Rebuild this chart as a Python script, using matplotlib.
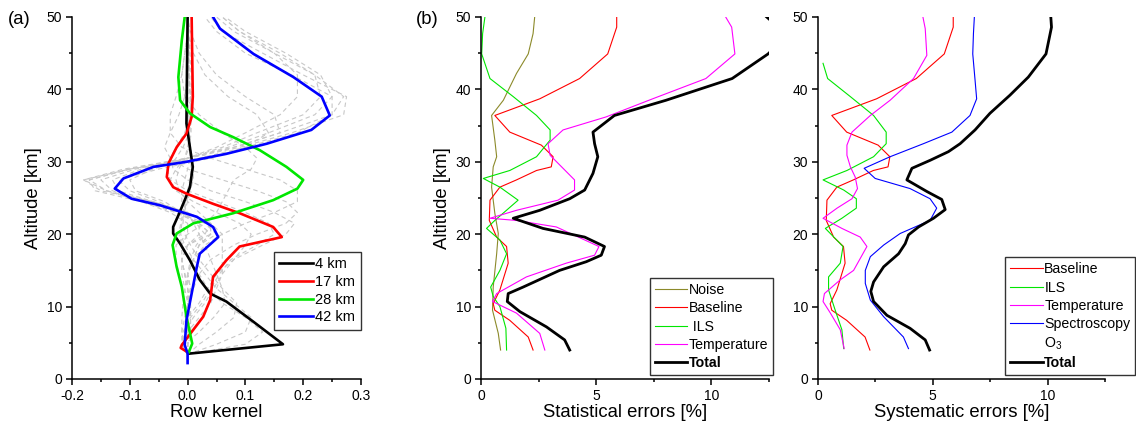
import matplotlib
matplotlib.use('Agg')
import matplotlib.pyplot as plt
from matplotlib.ticker import MultipleLocator, FormatStrFormatter

plt.rcParams['font.family'] = ['Liberation Sans', 'DejaVu Sans']
plt.rcParams['mathtext.fontset'] = 'custom'
plt.rcParams['mathtext.rm'] = 'Liberation Sans'
plt.rcParams['mathtext.it'] = 'Liberation Sans:italic'
plt.rcParams['axes.unicode_minus'] = False

# ---------------- Panel (a): row kernels ----------------
k4_x = [0.002, 0.165, 0.114, 0.067, 0.039, 0.021, 0.004, -0.013, -0.025, -0.025, -0.016, -0.005, 0.004, 0.009, 0.004, -0.002, -0.001, 0.0]
k4_y = [3.5, 4.8, 7.9, 10.7, 11.8, 13.7, 16.4, 18.7, 20.1, 21.0, 22.6, 24.7, 26.5, 29.3, 32.0, 35.3, 43.0, 50.0]

k17_x = [-0.002, -0.012, -0.01, 0.007, 0.027, 0.039, 0.044, 0.067, 0.09, 0.163, 0.148, 0.09, 0.044, -0.002, -0.025, -0.036, -0.033, -0.019, -0.002, 0.007, 0.009, 0.007]
k17_y = [3.8, 4.3, 4.7, 6.5, 8.6, 10.9, 14.1, 16.4, 18.3, 19.6, 21.0, 22.9, 24.2, 25.6, 26.5, 27.9, 29.8, 32.0, 33.9, 36.2, 39.0, 50.0]

k28_x = [0.002, 0.008, -0.002, -0.01, -0.019, -0.026, -0.019, 0.01, 0.079, 0.148, 0.19, 0.2, 0.171, 0.125, 0.079, 0.039, 0.004, -0.013, -0.016, -0.01, -0.005]
k28_y = [3.7, 4.9, 8.6, 12.7, 15.5, 18.5, 20.1, 21.5, 22.9, 24.7, 26.3, 27.5, 29.3, 31.6, 33.4, 34.8, 36.7, 38.5, 41.7, 46.8, 50.0]

k42_x = [0.0, 0.0, -0.005, -0.002, 0.007, 0.016, 0.021, 0.053, 0.044, 0.016, -0.048, -0.097, -0.126, -0.111, -0.059, -0.002, 0.067, 0.137, 0.214, 0.246, 0.232, 0.183, 0.114, 0.056, 0.044]
k42_y = [2.2, 3.5, 4.7, 8.1, 11.8, 15.5, 17.3, 19.6, 21.0, 22.4, 24.0, 24.9, 26.3, 27.7, 29.3, 30.0, 31.1, 32.5, 34.4, 36.4, 39.0, 41.7, 44.9, 48.4, 50.0]

kernel_labels = ['4 km', '17 km', '28 km', '42 km']

# other (gray dashed) kernels, estimated
gray_z = [3.4, 4.8, 6.5, 8.5, 10.5, 12.5, 14.5, 16.5, 18.5, 20, 21.5, 23, 24.5, 26, 27.5, 29, 30.5, 32, 34, 36.5, 39, 42, 45, 48, 50]
gray_k6 = [0.0, 0.10, 0.13, 0.10, 0.06, 0.035, 0.02, 0.005, -0.01, -0.015, -0.012, -0.008, -0.004, 0.0, 0.004, 0.006, 0.006, 0.004, 0.002, 0.0, 0.0, 0.0, 0.0, 0.0, 0.0]
gray_k8 = [0.0, 0.05, 0.10, 0.11, 0.08, 0.05, 0.03, 0.01, -0.005, -0.012, -0.01, -0.006, 0.0, 0.004, 0.008, 0.008, 0.006, 0.004, 0.002, 0.0, 0.0, 0.0, 0.0, 0.0, 0.0]
gray_k10 = [0.0, 0.02, 0.05, 0.08, 0.085, 0.06, 0.04, 0.02, 0.005, -0.005, -0.008, -0.006, -0.002, 0.004, 0.01, 0.01, 0.008, 0.005, 0.003, 0.001, 0.0, 0.0, 0.0, 0.0, 0.0]
gray_k12 = [0.0, -0.005, 0.02, 0.045, 0.065, 0.06, 0.05, 0.04, 0.03, 0.02, 0.01, 0.0, -0.01, -0.01, -0.005, 0.0, 0.004, 0.004, 0.003, 0.002, 0.001, 0.0, 0.0, 0.0, 0.0]
gray_k14 = [0.0, -0.01, 0.0, 0.02, 0.04, 0.05, 0.06, 0.06, 0.06, 0.06, 0.04, 0.02, 0.0, -0.015, -0.02, -0.015, -0.005, 0.0, 0.004, 0.005, 0.005, 0.003, 0.002, 0.001, 0.0]
gray_k16 = [0.0, -0.01, -0.005, 0.01, 0.03, 0.045, 0.06, 0.08, 0.1, 0.11, 0.09, 0.05, 0.01, -0.02, -0.03, -0.02, -0.005, 0.003, 0.006, 0.006, 0.004, 0.002, 0.001, 0.0, 0.0]
gray_k18 = [0.0, -0.01, -0.008, 0.005, 0.025, 0.04, 0.055, 0.075, 0.12, 0.15, 0.14, 0.1, 0.05, 0.0, -0.03, -0.035, -0.02, -0.008, 0.003, 0.006, 0.005, 0.003, 0.002, 0.001, 0.0]
gray_k20 = [0.0, -0.005, -0.005, 0.0, 0.02, 0.035, 0.05, 0.08, 0.13, 0.17, 0.185, 0.15, 0.1, 0.04, 0.0, -0.025, -0.03, -0.02, -0.005, 0.005, 0.008, 0.006, 0.004, 0.002, 0.001]
gray_k22 = [0.0, -0.01, -0.01, -0.005, 0.0, 0.01, 0.02, 0.04, 0.08, 0.12, 0.17, 0.19, 0.17, 0.12, 0.06, 0.0, -0.03, -0.04, -0.03, -0.015, -0.005, 0.0, 0.002, 0.002, 0.001]
gray_k25 = [0.0, -0.005, -0.01, -0.01, -0.008, -0.005, 0.0, 0.01, 0.03, 0.06, 0.1, 0.15, 0.19, 0.19, 0.16, 0.1, 0.04, -0.01, -0.03, -0.03, -0.02, -0.01, -0.005, 0.0, 0.0]
gray_k30 = [0.0, 0.0, 0.005, 0.0, -0.005, -0.01, -0.015, -0.02, -0.02, 0.0, 0.03, 0.05, 0.06, 0.07, 0.08, 0.11, 0.12, 0.1, 0.06, 0.02, -0.005, -0.01, -0.005, 0.0, 0.0]
gray_k32 = [0.0, 0.0, 0.005, 0.005, 0.005, 0.0, -0.005, -0.01, -0.01, 0.0, 0.0, -0.03, -0.08, -0.14, -0.17, -0.1, 0.0, 0.08, 0.16, 0.15, 0.1, 0.05, 0.02, 0.005, 0.0]
gray_k33 = [0.0, 0.0, 0.005, 0.005, 0.0, -0.005, -0.01, -0.01, 0.0, 0.02, 0.02, -0.01, -0.05, -0.1, -0.12, -0.05, 0.04, 0.1, 0.14, 0.12, 0.07, 0.03, 0.01, 0.0, 0.0]
gray_k35 = [0.0, 0.0, 0.005, 0.005, 0.005, 0.0, -0.005, -0.01, 0.0, 0.03, 0.04, 0.0, -0.06, -0.14, -0.18, -0.1, 0.02, 0.1, 0.19, 0.25, 0.25, 0.18, 0.1, 0.05, 0.03]
gray_k38 = [0.0, 0.0, 0.005, 0.005, 0.005, 0.0, -0.005, -0.01, 0.0, 0.04, 0.04, 0.0, -0.06, -0.15, -0.18, -0.11, 0.0, 0.09, 0.18, 0.27, 0.275, 0.2, 0.13, 0.06, 0.04]
gray_k40 = [0.0, 0.0, 0.0, 0.0, 0.005, 0.005, 0.0, 0.01, 0.02, 0.04, 0.02, -0.02, -0.08, -0.16, -0.17, -0.1, 0.0, 0.08, 0.16, 0.25, 0.27, 0.22, 0.15, 0.08, 0.05]
gray_k43 = [0.0, 0.0, 0.0, 0.0, 0.0, 0.005, 0.0, 0.01, 0.02, 0.05, 0.03, -0.015, -0.06, -0.12, -0.13, -0.08, 0.0, 0.06, 0.12, 0.2, 0.23, 0.22, 0.16, 0.09, 0.06]
gray_k45 = [0.0, 0.0, 0.0, 0.0, 0.0, 0.005, 0.0, 0.01, 0.02, 0.04, 0.02, -0.02, -0.07, -0.13, -0.15, -0.09, 0.0, 0.07, 0.14, 0.22, 0.25, 0.23, 0.17, 0.1, 0.065]
gray_k47 = [0.0, 0.0, 0.0, 0.0, 0.0, 0.0, 0.0, 0.005, 0.015, 0.03, 0.015, -0.01, -0.04, -0.09, -0.1, -0.06, 0.0, 0.05, 0.1, 0.16, 0.19, 0.19, 0.15, 0.09, 0.06]
gray_kernels = [gray_k6, gray_k8, gray_k10, gray_k12, gray_k14, gray_k16, gray_k18, gray_k20,
                gray_k22, gray_k25, gray_k30, gray_k32, gray_k33, gray_k35, gray_k38, gray_k40,
                gray_k43, gray_k45, gray_k47]

# ---------------- Panel (b): statistical errors [%] ----------------
noise_x = [0.85, 0.75, 0.5, 0.53, 0.68, 0.75, 0.6, 0.46, 0.53, 0.68, 0.6, 0.46, 0.97, 1.54, 2.05, 2.26, 2.33]
noise_y = [4.0, 6.3, 9.5, 12.7, 17.3, 20.1, 22.9, 26.5, 29.3, 30.7, 33.0, 36.4, 38.5, 42.2, 44.9, 47.7, 50.0]

baseline_x = [2.26, 2.05, 1.25, 0.6, 0.53, 0.82, 1.18, 1.11, 0.68, 0.36, 0.39, 0.82, 1.54, 2.41, 3.05, 3.13, 2.62, 1.25, 0.6, 2.55, 4.28, 5.5, 5.89, 5.89]
baseline_y = [4.0, 5.8, 8.1, 9.5, 10.4, 12.3, 16.0, 18.3, 19.6, 21.9, 24.7, 26.5, 27.5, 28.8, 29.3, 30.7, 32.3, 34.1, 36.4, 38.7, 41.5, 44.9, 48.6, 50.0]

ils_stat_x = [1.11, 1.08, 0.82, 0.53, 0.42, 0.82, 1.11, 0.82, 0.24, 0.6, 1.61, 0.82, 0.1, 1.25, 2.41, 3.0, 3.0, 2.41, 1.4, 0.39, 0.03, 0.07, 0.17]
ils_stat_y = [4.0, 7.0, 10.0, 11.4, 12.7, 15.0, 17.3, 19.2, 20.8, 21.9, 24.7, 26.5, 27.7, 28.8, 30.7, 33.0, 34.4, 36.4, 39.0, 41.5, 44.9, 47.7, 50.0]

temp_stat_x = [2.77, 2.55, 1.54, 0.5, 0.68, 1.97, 3.7, 4.93, 5.12, 3.27, 1.54, 0.39, 1.54, 3.34, 4.06, 4.06, 3.0, 2.91, 3.56, 5.43, 7.45, 9.76, 11.02, 10.88, 10.62]
temp_stat_y = [4.0, 6.3, 9.1, 10.7, 11.8, 14.1, 16.0, 17.1, 18.3, 21.0, 21.9, 22.2, 23.3, 24.7, 26.1, 27.5, 30.9, 32.5, 34.4, 36.2, 38.7, 41.5, 44.9, 48.6, 50.0]

total_stat_x = [3.85, 3.63, 2.84, 1.69, 1.14, 1.18, 1.83, 3.41, 4.57, 5.22, 5.36, 4.5, 2.69, 1.4, 2.55, 3.85, 4.5, 4.86, 5.07, 4.93, 4.86, 5.79, 8.03, 10.9, 12.46, 13.3, 12.4]
total_stat_y = [4.0, 5.4, 7.2, 9.3, 10.7, 11.8, 12.7, 15.0, 16.2, 17.1, 18.3, 19.6, 20.8, 22.2, 23.3, 24.9, 26.1, 28.4, 30.7, 32.5, 34.1, 36.4, 38.5, 41.5, 44.9, 47.5, 50.0]

stat_labels = ['Noise', 'Baseline', ' ILS', 'Temperature', 'Total']

# ---------------- Panel (c): systematic errors [%] ----------------
ils_sys_x = [1.12, 1.04, 0.75, 0.46, 0.46, 0.97, 1.09, 0.32, 1.04, 1.67, 1.67, 1.12, 0.22, 1.26, 2.42, 2.97, 2.97, 2.42, 1.41, 0.42, 0.22]
ils_sys_y = [4.2, 6.8, 9.5, 12.3, 14.1, 16.0, 18.3, 20.8, 22.2, 23.6, 24.9, 26.1, 27.5, 28.8, 30.7, 32.5, 34.1, 36.4, 39.0, 41.5, 43.6]

temp_sys_x = [1.14, 0.97, 0.54, 0.22, 0.28, 0.97, 1.55, 2.13, 1.84, 1.04, 0.22, 0.83, 1.48, 1.72, 1.62, 1.41, 1.26, 1.26, 1.48, 2.28, 3.14, 4.16, 4.74, 4.67, 4.57]
temp_sys_y = [4.2, 6.8, 9.1, 10.7, 11.8, 13.7, 15.0, 18.3, 19.6, 20.8, 22.2, 23.6, 24.9, 26.3, 27.9, 29.3, 30.9, 32.3, 34.1, 36.4, 38.5, 41.5, 44.7, 48.4, 50.0]

spec_x = [3.94, 3.72, 2.86, 2.28, 2.06, 2.06, 2.28, 2.86, 3.58, 4.88, 5.17, 4.88, 4.01, 2.49, 2.01, 3.14, 4.59, 5.83, 6.62, 6.91, 6.84, 6.74, 6.77, 6.81]
spec_y = [4.2, 5.8, 8.6, 10.9, 13.2, 15.0, 16.9, 18.5, 20.1, 21.9, 23.6, 24.9, 26.3, 27.7, 29.1, 30.7, 32.5, 34.1, 36.4, 38.7, 41.3, 44.9, 47.7, 50.0]

total_sys_x = [4.86, 4.67, 4.01, 3.0, 2.42, 2.3, 2.42, 2.86, 3.51, 3.8, 3.94, 4.38, 5.03, 5.54, 5.39, 4.74, 3.87, 4.09, 4.88, 5.68, 6.19, 6.84, 7.49, 8.36, 9.16, 9.93, 10.17, 10.14]
total_sys_y = [4.0, 5.4, 7.0, 8.8, 10.7, 12.1, 13.4, 15.5, 17.3, 18.7, 19.9, 21.0, 22.2, 23.4, 24.8, 25.9, 27.5, 29.1, 30.2, 31.4, 32.5, 34.4, 36.7, 39.2, 41.7, 44.9, 48.6, 50.0]

sys_labels = ['Baseline', 'ILS', 'Temperature', 'Spectroscopy', 'O$_3$', 'Total']

# ---------------- Figure ----------------
W, H = 1136, 426
fig = plt.figure(figsize=(W / 100, H / 100), dpi=100)


def px_axes(left, right, top, bottom):
    return fig.add_axes([left / W, 1 - bottom / H, (right - left) / W, (bottom - top) / H])


def style(ax, xlim, xmaj, xmin, fmt):
    ax.set_xlim(*xlim)
    ax.set_ylim(0, 50)
    for s in ['top', 'right']:
        ax.spines[s].set_visible(False)
    for s in ['left', 'bottom']:
        ax.spines[s].set_linewidth(1.1)
    ax.xaxis.set_major_locator(MultipleLocator(xmaj))
    ax.xaxis.set_minor_locator(MultipleLocator(xmin))
    ax.xaxis.set_major_formatter(FormatStrFormatter(fmt))
    ax.yaxis.set_major_locator(MultipleLocator(10))
    ax.yaxis.set_minor_locator(MultipleLocator(5))
    ax.tick_params(which='major', direction='out', length=4, width=1.1, labelsize=10, pad=3)
    ax.tick_params(which='minor', direction='out', length=2.5, width=1.1)


axA = px_axes(72, 361, 17, 379)
axB = px_axes(481, 769, 17, 379)
axC = px_axes(818, 1105, 17, 379)

# (a)
for g in gray_kernels:
    axA.plot(g, gray_z, color='#c8c8c8', lw=0.8, ls=(0, (4, 3)), zorder=1)
kern_colors = ['black', '#ff0000', '#00e600', '#0000ff']
for (x, y), c, lab in zip([(k4_x, k4_y), (k17_x, k17_y), (k28_x, k28_y), (k42_x, k42_y)], kern_colors, kernel_labels):
    axA.plot(x, y, color=c, lw=1.9, label=lab, zorder=3)
style(axA, (-0.2, 0.3), 0.1, 0.05, '%.1f')
axA.set_xlabel('Row kernel', fontsize=13.3, labelpad=1)
axA.set_ylabel('Altitude [km]', fontsize=13.3, labelpad=3)
legA = axA.legend(loc='lower right', bbox_to_anchor=(1.0, 0.135), borderaxespad=0,
                  fontsize=10.5, handlelength=2.3, handletextpad=0.15, labelspacing=0.25,
                  borderpad=0.4, fancybox=False, framealpha=1, edgecolor='#333333')
legA.get_frame().set_linewidth(1.0)

# (b)
axB.plot(noise_x, noise_y, color='#8c8a2a', lw=0.8, label=stat_labels[0])
axB.plot(baseline_x, baseline_y, color='#ff0000', lw=0.8, label=stat_labels[1])
axB.plot(ils_stat_x, ils_stat_y, color='#00e600', lw=0.8, label=stat_labels[2])
axB.plot(temp_stat_x, temp_stat_y, color='#ff00ff', lw=0.8, label=stat_labels[3])
axB.plot(total_stat_x, total_stat_y, color='black', lw=2.0, label=stat_labels[4])
style(axB, (0, 12.5), 5, 2.5, '%d')
axB.set_xlabel('Statistical errors [%]', fontsize=13.3, labelpad=1)
axB.set_ylabel('Altitude [km]', fontsize=13.3, labelpad=3)
legB = axB.legend(loc='lower right', bbox_to_anchor=(1.014, 0.011), borderaxespad=0,
                  fontsize=10.2, handlelength=2.3, handletextpad=0.1, labelspacing=0.3,
                  borderpad=0.35, fancybox=False, framealpha=1, edgecolor='#333333')
legB.get_frame().set_linewidth(1.0)
legB.get_texts()[-1].set_fontweight('bold')

# (c)
axC.plot(baseline_x, baseline_y, color='#ff0000', lw=0.8, label=sys_labels[0])
axC.plot(ils_sys_x, ils_sys_y, color='#00e600', lw=0.8, label=sys_labels[1])
axC.plot(temp_sys_x, temp_sys_y, color='#ff00ff', lw=0.8, label=sys_labels[2])
axC.plot(spec_x, spec_y, color='#0000ff', lw=0.8, label=sys_labels[3])
axC.plot([], [], color='none', label=sys_labels[4])
axC.plot(total_sys_x, total_sys_y, color='black', lw=2.0, label=sys_labels[5])
style(axC, (0, 12.5), 5, 2.5, '%d')
axC.set_xlabel('Systematic errors [%]', fontsize=13.3, labelpad=1)
legC = axC.legend(loc='lower right', bbox_to_anchor=(1.106, 0.011), borderaxespad=0,
                  fontsize=10.2, handlelength=2.3, handletextpad=0.1, labelspacing=0.3,
                  borderpad=0.35, fancybox=False, framealpha=1, edgecolor='#333333')
legC.get_frame().set_linewidth(1.0)
legC.get_texts()[-1].set_fontweight('bold')

fig.text(8 / W, 1 - 11 / H, '(a)', fontsize=13.3, va='top', ha='left')
fig.text(416 / W, 1 - 11 / H, '(b)', fontsize=13.3, va='top', ha='left')

fig.savefig('out.png', dpi=100)
